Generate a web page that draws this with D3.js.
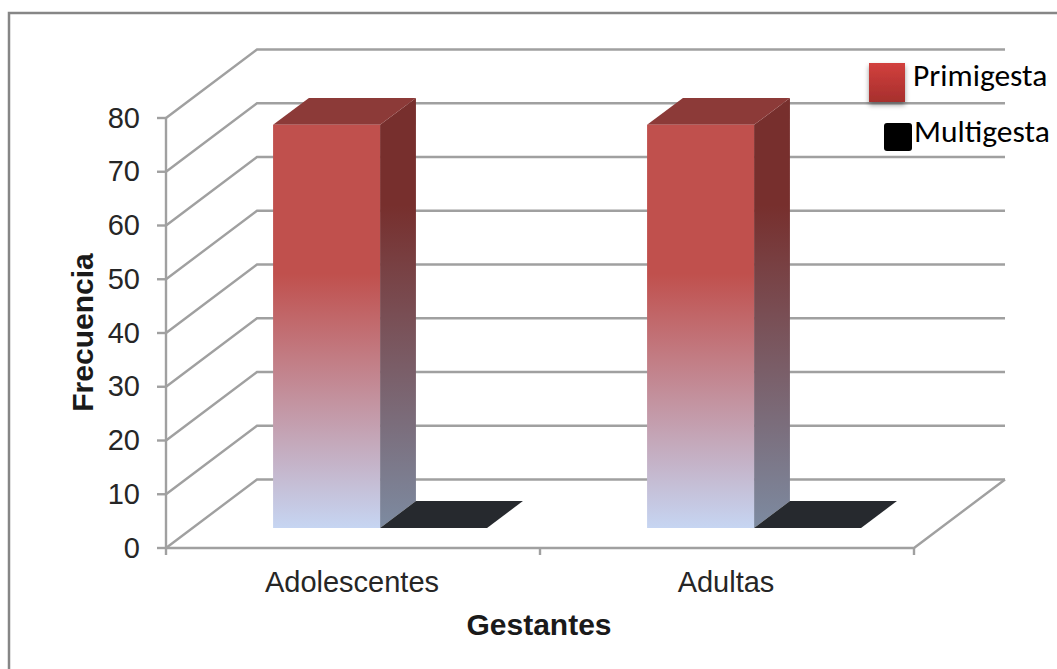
<!DOCTYPE html>
<html>
<head>
<meta charset="utf-8">
<script src="https://cdn.jsdelivr.net/npm/d3@7/dist/d3.min.js"></script>
<style>
html,body{margin:0;padding:0;background:#fff;overflow:hidden}
svg{display:block}
</style>
</head>
<body>
<svg id="chart" width="1057" height="669"></svg>
<script>
// Chart values
const categories = ["Adolescentes", "Adultas"];
const seriesNames = ["Primigesta", "Multigesta"];
const primigesta = [75, 75];
const multigesta = [0, 0];
const yTicks = [0, 10, 20, 30, 40, 50, 60, 70, 80];

const svg = d3.select("#chart");
const defs = svg.append("defs");

// Oblique projection: depth 0 is the front of the floor, depth 1 is the back wall
const depthX = 91, depthY = 68.5;
const x = d3.scaleBand().domain(categories).range([166, 914]);
const y = d3.scaleLinear().domain([0, 80]).range([548, 118]);
const inner = d3.scaleBand().domain(seriesNames).range([80.5, 294.5]);
const barDepth = [0.292, 0.686];
const project = (px, py, d) => [px + depthX * d, py - depthY * d];
const poly = pts => "M" + pts.map(p => p.join(",")).join("L") + "Z";

function gradient(id, stops, x2 = 0, y2 = 1) {
  const g = defs.append("linearGradient").attr("id", id)
    .attr("x1", 0).attr("y1", 0).attr("x2", x2).attr("y2", y2);
  stops.forEach(([o, c]) => g.append("stop").attr("offset", o).attr("stop-color", c));
}
gradient("frontFill", [[0, "#c0504d"], [0.37, "#c0504d"], [1, "#c6d5f2"]]);
gradient("sideFill", [[0, "#772f2d"], [0.25, "#772f2d"], [1, "#7d8ba1"]]);
gradient("legendRed", [[0, "#d2403d"], [1, "#a62f2d"]]);
const shadow = defs.append("filter").attr("id", "legendShadow")
  .attr("x", "-30%").attr("y", "-30%").attr("width", "160%").attr("height", "160%");
shadow.append("feDropShadow").attr("dx", 0).attr("dy", 3).attr("stdDeviation", 2.5)
  .attr("flood-color", "#000").attr("flood-opacity", 0.4);

// Outer frame
svg.append("path").attr("d", "M9,669V13H1057")
  .attr("fill", "none").attr("stroke", "#868686").attr("stroke-width", 2.5);

const gridColor = "#a0a0a0";
const grid = svg.append("g").attr("fill", "none").attr("stroke", gridColor).attr("stroke-width", 2.4);

// Gridlines on the side wall and back wall
grid.selectAll("path.gridline").data(yTicks).join("path").attr("class", "gridline")
  .attr("d", v => {
    const a = project(166, y(v), 0), b = project(166, y(v), 1), c = project(914, y(v), 1);
    return d3.line()([a, b, c]);
  });

// Floor edges and axes
const [x0, x1] = x.range();
const y0 = y(0);
grid.append("path").attr("d", d3.line()([project(x1, y0, 1), project(x1, y0, 0), [x0, y0]]));
grid.append("path").attr("d", d3.line()([[x0, y(80)], [x0, y0]]));
grid.selectAll("path.ytick").data(yTicks).join("path").attr("class", "ytick")
  .attr("d", v => d3.line()([[x0 - 9, y(v)], [x0, y(v)]]));
grid.selectAll("path.xtick").data([x0, x0 + x.bandwidth(), x1]).join("path").attr("class", "xtick")
  .attr("d", v => d3.line()([[v, y0], [v, y0 + 7]]));

// Bars: each is a front face, a side face and a top in the oblique projection
const rows = categories.flatMap((c, i) => [
  { category: c, series: seriesNames[0], value: primigesta[i] },
  { category: c, series: seriesNames[1], value: multigesta[i] }
]);
const bars = svg.append("g").selectAll("g").data(rows).join("g")
  .attr("transform", d => `translate(${x(d.category) + inner(d.series)},0)`);
const w = inner.bandwidth();
const [dA, dB] = barDepth;
const corners = d => ({
  fa: project(0, y(d.value), dA), fb: project(w, y(d.value), dA),
  ba: project(0, y(d.value), dB), bb: project(w, y(d.value), dB),
  fa0: project(0, y(0), dA), fb0: project(w, y(0), dA), bb0: project(w, y(0), dB)
});
const tall = bars.filter(d => d.value > 0);
tall.append("path").attr("fill", "url(#sideFill)")
  .attr("d", d => { const c = corners(d); return poly([c.fb, c.bb, c.bb0, c.fb0]); });
tall.append("path").attr("fill", "#8c3a38")
  .attr("d", d => { const c = corners(d); return poly([c.fa, c.fb, c.bb, c.ba]); });
tall.append("path").attr("fill", "url(#frontFill)")
  .attr("d", d => { const c = corners(d); return poly([c.fa, c.fb, c.fb0, c.fa0]); });
bars.filter(d => d.value === 0).append("path").attr("fill", "#26292e")
  .attr("d", d => { const c = corners(d); return poly([c.fa, c.fb, c.bb, c.ba]); });

// Axis labels
const arial = "'Liberation Sans', Arial, sans-serif";
svg.append("g").selectAll("text").data(yTicks).join("text")
  .attr("x", 140).attr("y", v => y(v) + 9.5).attr("text-anchor", "end")
  .attr("font-family", arial).attr("font-size", 29).attr("fill", "#262626").text(v => v);
svg.append("g").selectAll("text").data(categories).join("text")
  .attr("x", c => x(c) + x.bandwidth() / 2 - 1)
  .attr("y", 592).attr("text-anchor", "middle")
  .attr("font-family", arial).attr("font-size", 29).attr("fill", "#262626").text(c => c);
svg.append("text").attr("transform", "translate(93,332.5) rotate(-90)").attr("text-anchor", "middle")
  .attr("font-family", arial).attr("font-size", 30).attr("font-weight", 700).attr("fill", "#1a1a1a").text("Frecuencia");
svg.append("text").attr("x", 539).attr("y", 635).attr("text-anchor", "middle")
  .attr("font-family", arial).attr("font-size", 30).attr("font-weight", 700).attr("fill", "#1a1a1a").text("Gestantes");

// Legend
svg.append("rect").attr("x", 869).attr("y", 63).attr("width", 36).attr("height", 39)
  .attr("fill", "url(#legendRed)").attr("filter", "url(#legendShadow)");
svg.append("rect").attr("x", 884).attr("y", 123).attr("width", 28).attr("height", 28)
  .attr("rx", 3).attr("fill", "#000");
const legendFont = "Carlito, Lato, 'Open Sans', sans-serif";
svg.append("text").attr("x", 913).attr("y", 86).attr("font-family", legendFont)
  .attr("font-size", 31.5).attr("fill", "#000").text(seriesNames[0]);
svg.append("text").attr("x", 914).attr("y", 142).attr("font-family", legendFont)
  .attr("font-size", 31.5).attr("fill", "#000").text(seriesNames[1]);
</script>
</body>
</html>
